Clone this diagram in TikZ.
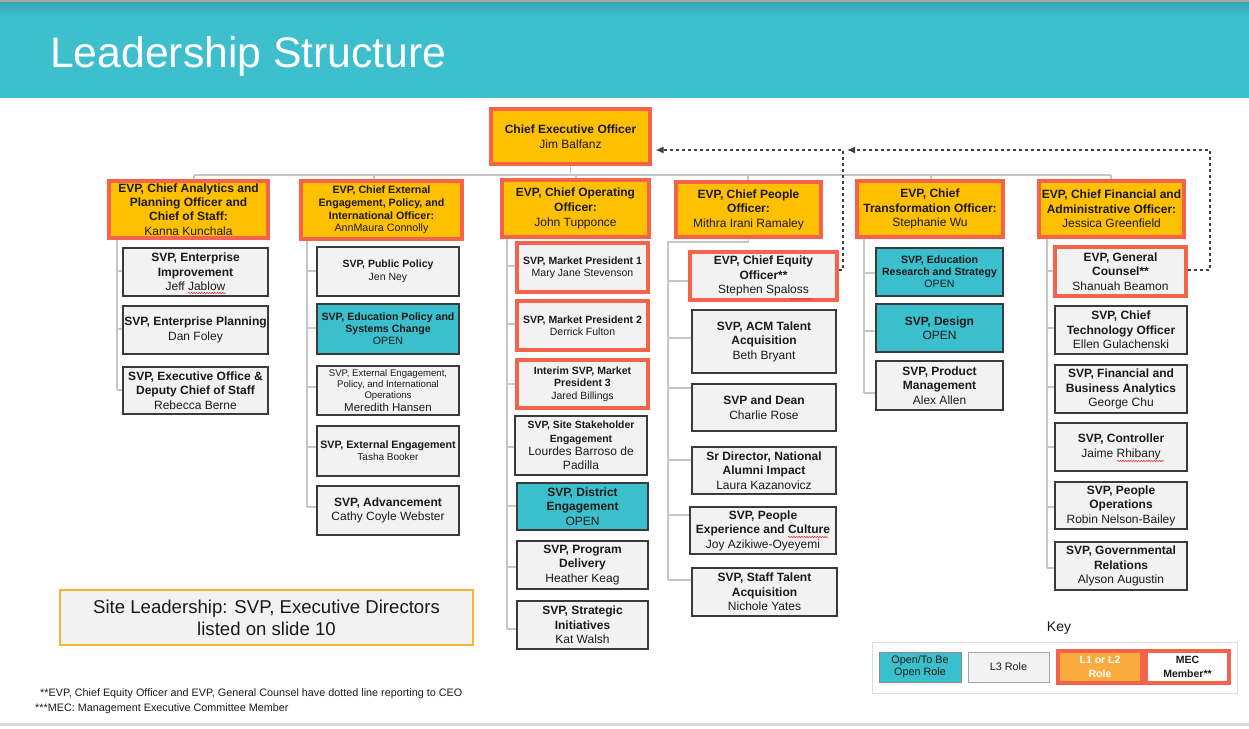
\documentclass[tikz,border=0pt]{standalone}
\usepackage{fontspec}
\setmainfont{Liberation Sans}
\usetikzlibrary{arrows.meta,decorations.pathmorphing}
\definecolor{hdr}{HTML}{3DBFCD}
\definecolor{hdrtop}{HTML}{34A8B5}
\definecolor{orgY}{HTML}{FFC000}
\definecolor{redB}{HTML}{F4634A}
\definecolor{tealB}{HTML}{3BBFCC}
\definecolor{grayF}{HTML}{F2F2F2}
\definecolor{grayD}{HTML}{3A3A3A}
\definecolor{connC}{HTML}{C6C6C6}
\definecolor{dashC}{HTML}{404040}
\definecolor{txt}{HTML}{1A1A1A}
\definecolor{siteB}{HTML}{F9B233}
\definecolor{keyO}{HTML}{F9AC3D}
\definecolor{keyL}{HTML}{DDDDDD}
\definecolor{sq}{HTML}{E03C3C}
\pgfdeclarelayer{bg}
\pgfsetlayers{bg,main}
\newcommand\fz[2]{\fontsize{#1}{#2}\selectfont}
\newcommand\orgbox[7]{%
 \pgfmathsetmacro\obw{#5-#3}\pgfmathsetmacro\obh{#6-#4}%
 \pgfmathsetmacro\obx{(#3+#5)/2}\pgfmathsetmacro\oby{(#4+#6)/2}%
 \node[#2,minimum width=\obw pt,minimum height=\obh pt] (#1) at (\obx,\oby) {#7};}
\newcommand\tk[3]{\coordinate (tmp) at (#1,#2); \draw[conn] (tmp) -- (tmp -| #3.west);}
\newcommand\sqg[3]{\draw[sq,line width=0.6pt,decorate,decoration={snake,amplitude=0.7pt,segment length=2.6pt}] (#1,#3) -- (#2,#3);}
\tikzset{
 base/.style={align=center, inner sep=0pt, font=\fz{12}{14.5}, text=txt},
 evp/.style={base, fill=orgY, draw=redB, line width=3.2pt},
 lthree/.style={base, fill=grayF, draw=grayD, line width=1.4pt},
 opn/.style={base, fill=tealB, draw=grayD, line width=1.4pt},
 mec/.style={base, fill=grayF, draw=redB, line width=3.2pt},
 conn/.style={draw=connC, line width=1.8pt},
 dsh/.style={draw=dashC, line width=1.2pt, dash pattern=on 3.5pt off 2.5pt, -{Latex[length=8pt,width=7pt]}},
}
\begin{document}
\begin{tikzpicture}[x=1pt,y=-1pt]
\useasboundingbox (0,0) rectangle (1249,728);
\begin{pgfonlayer}{bg}
\fill[white] (0,0) rectangle (1249,728);
\end{pgfonlayer}
% header
\fill[hdr] (0,2) rectangle (1249,98);
\shade[top color=hdrtop,bottom color=hdr] (0,2) rectangle (1249,16);
\fill[black!35] (0,0) rectangle (1249,2);
\node[anchor=base west, text=white, font=\fz{42.7}{48}, inner sep=0pt] (title) at (50,67) {Leadership Structure};
\fill[black!15] (0,723) rectangle (1249,726);

% CEO
\orgbox{ceo}{evp}{491}{109}{650}{164}{\textbf{Chief Executive Officer}\\Jim Balfanz}

% EVPs
\orgbox{e1}{evp,font=\fz{12}{14.3}}{109}{181}{268}{238}{\textbf{EVP, Chief Analytics and}\\\textbf{Planning Officer and}\\\textbf{Chief of Staff:}\\Kanna Kunchala}
\orgbox{e2}{evp,font=\fz{10.7}{12.7}}{301}{181}{462}{239}{\textbf{EVP, Chief External}\\\textbf{Engagement, Policy, and}\\\textbf{International Officer:}\\AnnMaura Connolly}
\orgbox{e3}{evp,font=\fz{12}{15}}{502}{180}{649}{237}{\textbf{EVP, Chief Operating}\\\textbf{Officer:}\\John Tupponce}
\orgbox{e4}{evp,font=\fz{12}{14.5}}{676}{182}{821}{237}{\textbf{EVP, Chief People}\\\textbf{Officer:}\\Mithra Irani Ramaley}
\orgbox{e5}{evp,font=\fz{12}{14.5}}{857}{181}{1003}{237}{\textbf{EVP, Chief}\\\textbf{Transformation Officer:}\\Stephanie Wu}
\orgbox{e6}{evp,font=\fz{12}{14.5}}{1039}{181}{1184}{237}{\textbf{EVP, Chief Financial and}\\\textbf{Administrative Officer:}\\Jessica Greenfield}

% column 1
\orgbox{c1a}{lthree}{123}{248}{268}{296}{\textbf{SVP, Enterprise}\\\textbf{Improvement}\\Jeff Jablow}
\orgbox{c1b}{lthree}{123}{306}{268}{354}{\textbf{SVP, Enterprise Planning}\\Dan Foley}
\orgbox{c1c}{lthree}{123}{367}{268}{414}{\textbf{SVP, Executive Office \&}\\\textbf{Deputy Chief of Staff}\\Rebecca Berne}

% column 2
\orgbox{c2a}{lthree,font=\fz{10.5}{12.5}}{317}{247}{459}{296}{\textbf{SVP, Public Policy}\\Jen Ney}
\orgbox{c2b}{opn,font=\fz{10.6}{12}}{317}{304}{459}{354}{\textbf{SVP, Education Policy and}\\\textbf{Systems Change}\\OPEN}
\orgbox{c2c}{lthree,font=\fz{9.6}{11}}{317}{366}{459}{415}{SVP, External Engagement,\\Policy, and International\\Operations\\[1.5pt]{\fz{11.5}{11}Meredith Hansen}}
\orgbox{c2d}{lthree,font=\fz{10.7}{12}}{317}{426}{459}{476}{\textbf{SVP, External Engagement}\\{\fz{10}{12}Tasha Booker}}
\orgbox{c2e}{lthree}{317}{486}{459}{535}{\textbf{SVP, Advancement}\\Cathy Coyle Webster}

% column 3
\orgbox{c3a}{mec,font=\fz{10.5}{12}}{517}{243}{648}{292}{\textbf{SVP, Market President 1}\\Mary Jane Stevenson}
\orgbox{c3b}{mec,font=\fz{10.5}{12}}{517}{301}{648}{350}{\textbf{SVP, Market President 2}\\Derrick Fulton}
\orgbox{c3c}{mec,font=\fz{10.5}{12}}{517}{360}{648}{408}{\textbf{Interim SVP, Market}\\\textbf{President 3}\\[1pt]Jared Billings}
\orgbox{c3d}{lthree,font=\fz{10.4}{13.5}}{515}{416}{647}{475}{\textbf{SVP, Site Stakeholder}\\\textbf{Engagement}\\{\fz{12}{13.5}Lourdes Barroso de}\\{\fz{12}{13.5}Padilla}}
\orgbox{c3e}{opn}{517}{483}{648}{530}{\textbf{SVP, District}\\\textbf{Engagement}\\OPEN}
\orgbox{c3f}{lthree}{517}{541}{648}{589}{\textbf{SVP, Program}\\\textbf{Delivery}\\Heather Keag}
\orgbox{c3g}{lthree}{517}{601}{648}{649}{\textbf{SVP, Strategic}\\\textbf{Initiatives}\\Kat Walsh}

% column 4
\orgbox{c4a}{mec}{690}{252}{837}{300}{\textbf{EVP, Chief Equity}\\\textbf{Officer**}\\Stephen Spaloss}
\orgbox{c4b}{lthree}{692}{310}{836}{373}{\textbf{SVP, ACM Talent}\\\textbf{Acquisition}\\Beth Bryant}
\orgbox{c4c}{lthree}{692}{384}{836}{431}{\textbf{SVP and Dean}\\Charlie Rose}
\orgbox{c4d}{lthree}{692}{447}{836}{494}{\textbf{Sr Director, National}\\\textbf{Alumni Impact}\\Laura Kazanovicz}
\orgbox{c4e}{lthree}{690}{507}{836}{554}{\textbf{SVP, People}\\\textbf{Experience and Culture}\\Joy Azikiwe-Oyeyemi}
\orgbox{c4f}{lthree}{692}{568}{837}{616}{\textbf{SVP, Staff Talent}\\\textbf{Acquisition}\\Nichole Yates}

% column 5
\orgbox{c5a}{opn,font=\fz{10.6}{12}}{876}{248}{1003}{296}{\textbf{SVP, Education}\\\textbf{Research and Strategy}\\OPEN}
\orgbox{c5b}{opn}{876}{304}{1003}{352}{\textbf{SVP, Design}\\OPEN}
\orgbox{c5c}{lthree}{876}{361}{1003}{410}{\textbf{SVP, Product}\\\textbf{Management}\\Alex Allen}

% column 6
\orgbox{c6a}{mec}{1055}{247}{1186}{296}{\textbf{EVP, General}\\\textbf{Counsel**}\\Shanuah Beamon}
\orgbox{c6b}{lthree}{1055}{306}{1187}{354}{\textbf{SVP, Chief}\\\textbf{Technology Officer}\\Ellen Gulachenski}
\orgbox{c6c}{lthree}{1055}{365}{1187}{413}{\textbf{SVP, Financial and}\\\textbf{Business Analytics}\\George Chu}
\orgbox{c6d}{lthree}{1055}{423}{1187}{471}{\textbf{SVP, Controller}\\Jaime Rhibany}
\orgbox{c6e}{lthree}{1055}{482}{1187}{529}{\textbf{SVP, People}\\\textbf{Operations}\\Robin Nelson-Bailey}
\orgbox{c6f}{lthree}{1055}{542}{1187}{590}{\textbf{SVP, Governmental}\\\textbf{Relations}\\Alyson Augustin}

% spelling squiggles
\sqg{188}{226}{293}
\sqg{790}{812}{299}
\sqg{788}{828}{537}
\sqg{1117}{1164}{461}

% connectors
\begin{pgfonlayer}{bg}
\coordinate (bus) at (0,175);
\draw[conn] (ceo.south) -- (ceo.south |- bus);
\coordinate (b1) at (194,175);
\coordinate (b2) at (374,175);
\coordinate (b3) at (576,175);
\coordinate (b4) at (748,175);
\coordinate (b5) at (931,175);
\coordinate (b6) at (1111,175);
\draw[conn] (b1) -- (b6);
\draw[conn] (b1) -- (b1 |- e1.north);
\draw[conn] (b2) -- (b2 |- e2.north);
\draw[conn] (b3) -- (b3 |- e3.north);
\draw[conn] (b4) -- (b4 |- e4.north);
\draw[conn] (b5) -- (b5 |- e5.north);
\draw[conn] (b6) -- (b6 |- e6.north);
% col1
\coordinate (s1) at (117,390);
\draw[conn] (s1 |- e1.south) -- (s1);
\tk{117}{271}{c1a}\tk{117}{329}{c1b}\tk{117}{390}{c1c}
% col2
\coordinate (s2) at (307,507);
\draw[conn] (s2 |- e2.south) -- (s2);
\tk{307}{271}{c2a}\tk{307}{328}{c2b}\tk{307}{387}{c2c}\tk{307}{447}{c2d}\tk{307}{507}{c2e}
% col3
\coordinate (s3) at (507,629);
\draw[conn] (s3 |- e3.south) -- (s3);
\tk{507}{266}{c3a}\tk{507}{324}{c3b}\tk{507}{384}{c3c}\tk{507}{447}{c3d}\tk{507}{506}{c3e}\tk{507}{567}{c3f}\tk{507}{629}{c3g}
% col4
\coordinate (s4t) at (668,242);
\coordinate (s4) at (668,580);
\draw[conn] (e4.south) |- (s4t) -- (s4);
\tk{668}{281}{c4a}\tk{668}{338}{c4b}\tk{668}{388}{c4c}\tk{668}{460}{c4d}\tk{668}{515}{c4e}\tk{668}{580}{c4f}
% col5
\coordinate (s5) at (864,393);
\draw[conn] (s5 |- e5.south) -- (s5);
\tk{864}{273}{c5a}\tk{864}{331}{c5b}\tk{864}{393}{c5c}
% col6
\coordinate (s6) at (1047,568);
\draw[conn] (s6 |- e6.south) -- (s6);
\tk{1047}{271}{c6a}\tk{1047}{328}{c6b}\tk{1047}{387}{c6c}\tk{1047}{447}{c6d}\tk{1047}{507}{c6e}\tk{1047}{568}{c6f}
\end{pgfonlayer}

% dotted reporting lines
\coordinate (jn) at (843,150);
\coordinate (rt) at (1210,150);
\draw[dsh] ([yshift=6pt]c4a.east) -| (jn) -- ([yshift=-13.5pt,xshift=4pt]ceo.east);
\draw[dsh] ([yshift=1.5pt]c6a.east) -| (rt) -- ([xshift=4pt]jn);

% site leadership
\orgbox{site}{base,fill=grayF,draw=siteB,line width=1.8pt,font=\fz{18.6}{22}}{60}{590}{473}{645}{Site Leadership: SVP, Executive Directors\\listed on slide 10}

% footnotes
\node[anchor=west, inner sep=0pt, font=\fz{10.8}{12}, text=txt] (fn1) at (40,694) {**EVP, Chief Equity Officer and EVP, General Counsel have dotted line reporting to CEO};
\node[anchor=west, inner sep=0pt, font=\fz{10.8}{12}, text=txt] (fn2) at (35,709) {***MEC: Management Executive Committee Member};

% key
\node[inner sep=0pt, font=\fz{14}{16}, text=txt] (keyt) at (1059,628) {Key};
\orgbox{keyf}{draw=keyL,fill=white,line width=1pt,inner sep=0pt}{872}{642}{1237}{693}{}
\orgbox{k1}{base,fill=tealB,draw=black!45,line width=1pt,font=\fz{10.8}{12}}{879}{652}{961}{682}{Open/To Be\\Open Role}
\orgbox{k2}{base,fill=grayF,draw=black!35,line width=1pt,font=\fz{10.8}{12}}{968}{652}{1049}{682}{L3 Role}
\orgbox{k3}{base,fill=keyO,draw=redB,line width=3.2pt,text=white,font=\fz{10.5}{13.5}\bfseries}{1058}{651}{1142}{683}{L1 or L2\\Role}
\orgbox{k4}{base,fill=white,draw=redB,line width=3.2pt,font=\fz{10.5}{13.5}\bfseries}{1146}{651}{1229}{683}{MEC\\Member**}
\end{tikzpicture}
\end{document}
